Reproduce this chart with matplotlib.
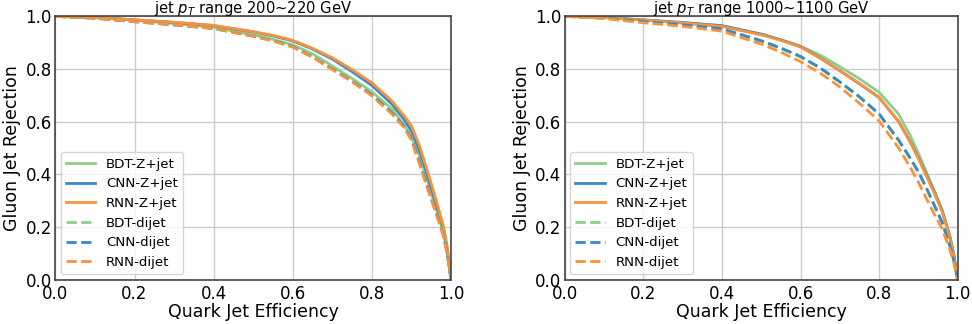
import numpy as np
import matplotlib
matplotlib.use("Agg")
import matplotlib.pyplot as plt

qe = [0, 0.1, 0.2, 0.3, 0.4, 0.5, 0.55, 0.6, 0.65, 0.7, 0.75, 0.8, 0.85, 0.88, 0.9, 0.92, 0.94, 0.96, 0.98, 0.99, 1.0]

# left panel: pT 200~220 GeV
low_bdt_z = [1, 0.995, 0.985, 0.973, 0.958, 0.930, 0.913, 0.892, 0.858, 0.812, 0.764, 0.714, 0.650, 0.592, 0.542, 0.472, 0.378, 0.282, 0.182, 0.112, 0]
low_cnn_z = [1, 0.996, 0.987, 0.977, 0.965, 0.941, 0.926, 0.907, 0.876, 0.838, 0.790, 0.738, 0.668, 0.612, 0.565, 0.492, 0.398, 0.298, 0.197, 0.122, 0]
low_rnn_z = [1, 0.996, 0.987, 0.978, 0.966, 0.942, 0.928, 0.909, 0.879, 0.843, 0.798, 0.748, 0.680, 0.625, 0.585, 0.510, 0.415, 0.315, 0.210, 0.130, 0]
low_bdt_dj = [1, 0.993, 0.980, 0.968, 0.954, 0.926, 0.909, 0.886, 0.848, 0.803, 0.757, 0.705, 0.640, 0.590, 0.540, 0.455, 0.360, 0.270, 0.180, 0.110, 0]
low_cnn_dj = [1, 0.993, 0.980, 0.968, 0.954, 0.925, 0.908, 0.885, 0.846, 0.800, 0.754, 0.702, 0.635, 0.585, 0.535, 0.450, 0.355, 0.265, 0.175, 0.105, 0]
low_rnn_dj = [1, 0.993, 0.980, 0.968, 0.954, 0.925, 0.907, 0.883, 0.845, 0.798, 0.752, 0.698, 0.630, 0.580, 0.530, 0.440, 0.350, 0.260, 0.170, 0.100, 0]

# right panel: pT 1000~1100 GeV
high_bdt_z = [1, 0.996, 0.986, 0.975, 0.962, 0.931, 0.911, 0.887, 0.853, 0.809, 0.763, 0.712, 0.628, 0.545, 0.480, 0.410, 0.340, 0.265, 0.165, 0.095, 0]
high_cnn_z = [1, 0.996, 0.987, 0.977, 0.965, 0.933, 0.911, 0.886, 0.842, 0.794, 0.744, 0.692, 0.600, 0.522, 0.463, 0.400, 0.335, 0.265, 0.165, 0.095, 0]
high_rnn_z = [1, 0.996, 0.986, 0.975, 0.962, 0.930, 0.909, 0.884, 0.841, 0.794, 0.745, 0.693, 0.600, 0.520, 0.460, 0.395, 0.330, 0.260, 0.160, 0.090, 0]
high_bdt_dj = [1, 0.994, 0.980, 0.967, 0.952, 0.905, 0.878, 0.846, 0.803, 0.750, 0.693, 0.628, 0.528, 0.458, 0.408, 0.348, 0.283, 0.218, 0.128, 0.073, 0]
high_cnn_dj = [1, 0.994, 0.981, 0.968, 0.953, 0.908, 0.880, 0.848, 0.805, 0.752, 0.695, 0.630, 0.530, 0.460, 0.410, 0.350, 0.285, 0.220, 0.130, 0.075, 0]
high_rnn_dj = [1, 0.992, 0.976, 0.962, 0.944, 0.895, 0.864, 0.828, 0.785, 0.732, 0.670, 0.603, 0.500, 0.425, 0.370, 0.310, 0.250, 0.195, 0.115, 0.065, 0]

labels = ["BDT-Z+jet", "CNN-Z+jet", "RNN-Z+jet", "BDT-dijet", "CNN-dijet", "RNN-dijet"]
titles = ["jet $p_T$ range 200~220 GeV", "jet $p_T$ range 1000~1100 GeV"]

c_green = "#8dcf8a"
c_blue = "#3a88c6"
c_orange = "#f9923a"
colors = [c_green, c_blue, c_orange, c_green, c_blue, c_orange]
styles = ["-", "-", "-", "--", "--", "--"]

panels = [
	[low_bdt_z, low_cnn_z, low_rnn_z, low_bdt_dj, low_cnn_dj, low_rnn_dj],
	[high_bdt_z, high_cnn_z, high_rnn_z, high_bdt_dj, high_cnn_dj, high_rnn_dj],
]

fig = plt.figure(figsize=(9.72, 3.24), dpi=100)
ax1 = fig.add_axes([0.057, 0.1364, 0.407, 0.813])
ax2 = fig.add_axes([0.581, 0.1364, 0.4043, 0.813])

for ax, curves, title in zip([ax1, ax2], panels, titles):
	for y, lab, col, ls in zip(curves, labels, colors, styles):
		ax.plot(qe, y, ls, color=col, lw=2, label=lab)
	ax.set_xlim(0, 1)
	ax.set_ylim(0, 1)
	ax.set_xticks(np.arange(0, 1.01, 0.2))
	ax.set_yticks(np.arange(0, 1.01, 0.2))
	ax.grid(True, color="#cccccc", lw=1)
	ax.set_axisbelow(True)
	ax.tick_params(labelsize=12, colors="black", length=0)
	ax.tick_params(axis="x", pad=3.5)
	ax.tick_params(axis="y", pad=2.5)
	for sp in ax.spines.values():
		sp.set_color("#444444")
		sp.set_linewidth(1.2)
	ax.set_xlabel("Quark Jet Efficiency", fontsize=12.5, labelpad=0)
	ax.set_ylabel("Gluon Jet Rejection", fontsize=12.5, labelpad=3)
	ax.set_title(title, fontsize=10.6, y=1.013, pad=0)
	ax.legend(loc="lower left", fontsize=9.6, borderaxespad=0.4, handlelength=2.2)

fig.savefig("out.png", dpi=100)
